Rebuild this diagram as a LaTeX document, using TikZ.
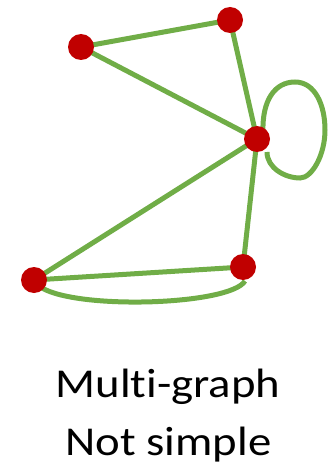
\documentclass[tikz,border=0pt]{standalone}
\usepackage{fontspec}
\setmainfont{Carlito}[Ligatures=NoCommon]
\usetikzlibrary{backgrounds}
\definecolor{edgegreen}{HTML}{70AD47}
\definecolor{vertred}{HTML}{C00000}
\begin{document}
\begin{tikzpicture}[x=1pt,y=-1pt,
  vert/.style={circle,fill=vertred,minimum size=26pt,inner sep=0pt},
  edge/.style={draw=edgegreen,line width=5pt},
  lbl/.style={anchor=base,inner sep=0pt,font=\fontsize{41}{49}\selectfont,xscale=1.14,transform shape}]
\useasboundingbox (0,0) rectangle (327,468);
\node[vert] (A) at (81,47) {};
\node[vert] (B) at (230,20) {};
\node[vert] (C) at (257,139) {};
\node[vert] (D) at (34,280) {};
\node[vert] (E) at (243,267) {};
\begin{scope}[on background layer]
\path[edge] (A.center) -- (B.center);
\path[edge] (A.center) -- (C.center);
\path[edge] (B.center) -- (C.center);
\path[edge] (C.center) -- (D.center);
\path[edge] (C.center) -- (E.center);
\path[edge] (D.center) -- (E.center);
\coordinate (l1) at (263,132);
\coordinate (l2) at (267,152);
\path[edge] (l1) .. controls (262,100) and (275,82) .. (295,82)
  .. controls (315,82) and (325,105) .. (325,130)
  .. controls (325,155) and (312,178) .. (300,178)
  .. controls (285,178) and (267,168) .. (l2);
\coordinate (d1) at (42,288);
\coordinate (e1) at (245,281);
\path[edge] (d1) .. controls (80,310) and (230,305) .. (e1);
\end{scope}
\node[lbl] (t1) at (168,397) {Multi-graph};
\node[lbl] (t2) at (168.5,455.5) {Not simple};
\end{tikzpicture}
\end{document}
